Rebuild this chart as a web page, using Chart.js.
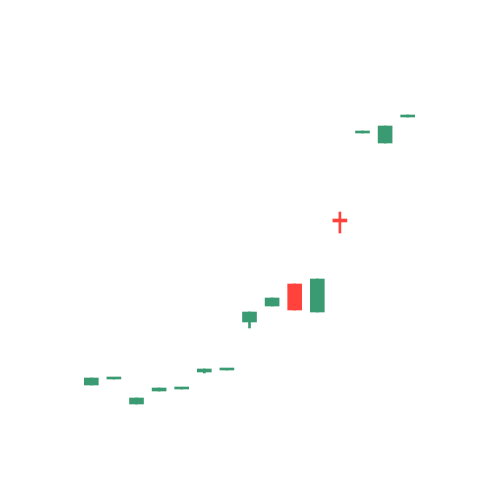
<!DOCTYPE html>
<html>
<head>
<script src="https://cdn.jsdelivr.net/npm/chart.js@4"></script>
<style>html,body{margin:0;background:#fff}#c{width:500px;height:500px}</style>
</head>
<body>
<div id="c"><canvas id="chart"></canvas></div>
<script>
const labels = ['1','2','3','4','5','6','7','8','9','10','11','12','13','14','15'];
const opens  = [115, 121, 96, 109, 111, 128, 130, 178, 194, 216, 188, 281, 367, 357, 383];
const closes = [122, 122, 102, 112, 112, 131, 131, 188, 202, 190, 221, 278, 369, 374, 385];
const highs  = [122, 122, 102, 112, 112, 131, 131, 188, 202, 216, 221, 288, 369, 374, 385];
const lows   = [115, 121, 96, 109, 111, 127, 130, 172, 194, 190, 188, 267, 367, 357, 383];

const UP = '#3a9a72', DOWN = '#ff433c';
const colors = opens.map((o, i) => closes[i] >= o ? UP : DOWN);

new Chart(document.getElementById('chart'), {
    type: 'bar',
    data: {
        labels: labels,
        datasets: [
            {
                data: lows.map((l, i) => [l, highs[i]]),
                backgroundColor: colors,
                barThickness: 2,
                grouped: false,
                order: 2
            },
            {
                data: opens.map((o, i) => [o, closes[i]]),
                backgroundColor: colors,
                barThickness: 14,
                minBarLength: 2,
                grouped: false,
                order: 1
            }
        ]
    },
    options: {
        responsive: true,
        maintainAspectRatio: false,
        animation: false,
        layout: { padding: { left: 80, right: 81, top: 0, bottom: 0 } },
        plugins: { legend: { display: false }, tooltip: { enabled: false } },
        scales: {
            x: { display: false },
            y: { display: false, min: 0, max: 500 }
        }
    }
});
</script>
</body>
</html>
